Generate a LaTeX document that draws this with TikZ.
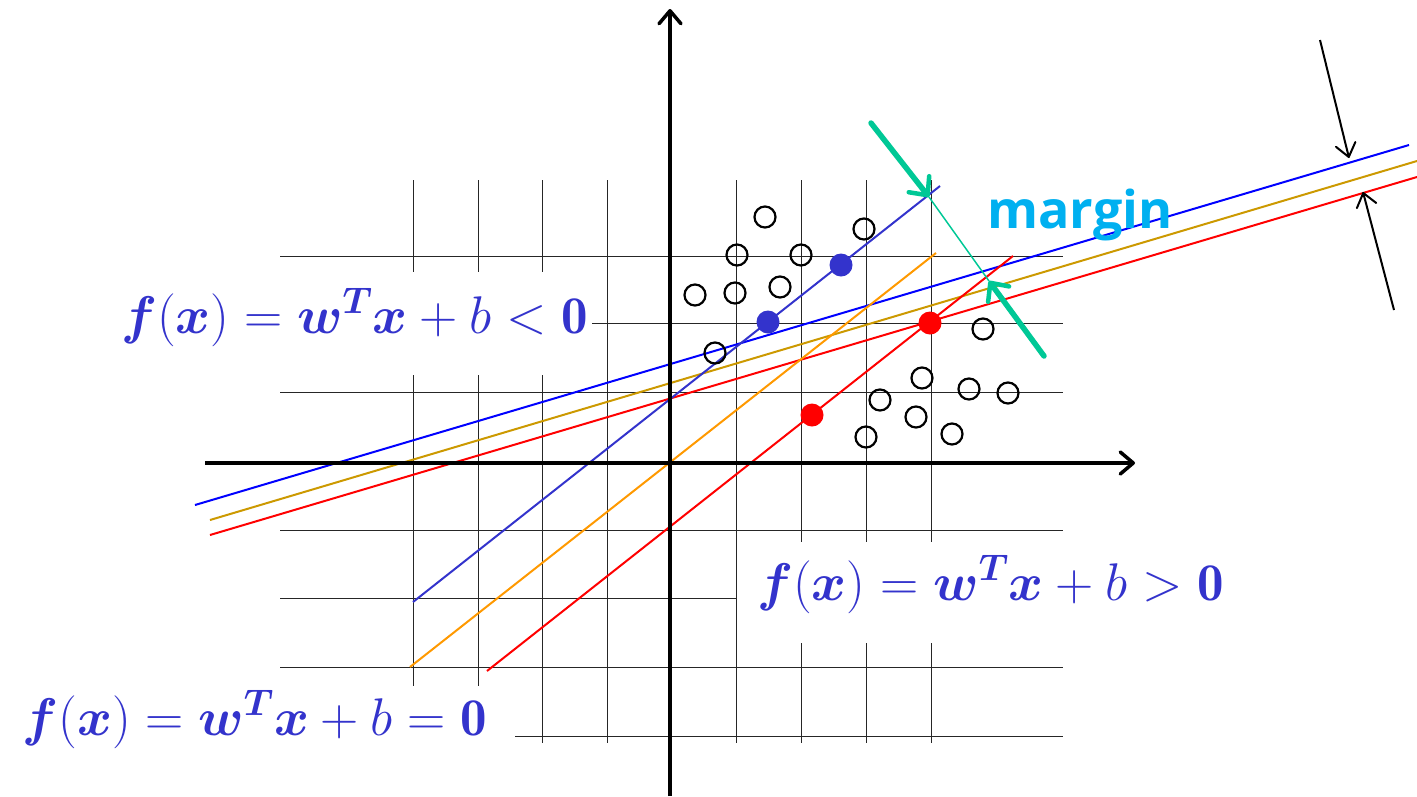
\RequirePackage{fix-cm}
\documentclass[tikz,border=0pt]{standalone}
\usepackage{amsmath}
\usepackage{fontspec}
\usepackage{tikz}
\usetikzlibrary{arrows.meta}
\newfontfamily\marginfont{Open Sans}
\definecolor{eqblue}{RGB}{51,51,204}
\definecolor{lineblue}{RGB}{0,0,255}
\definecolor{linegold}{RGB}{204,153,0}
\definecolor{lineorange}{RGB}{255,153,0}
\definecolor{linered}{RGB}{255,0,0}
\definecolor{margingreen}{RGB}{0,200,150}
\definecolor{margincyan}{RGB}{0,176,240}
\newcommand{\eqsize}{\fontsize{53}{60}\selectfont}
\newcommand{\bsym}[1]{\boldsymbol{#1}}
\begin{document}
\begin{tikzpicture}[x=1pt,y=-1pt,
  gridline/.style={black!85,line width=1pt},
  axis/.style={line width=3.5pt,-{Straight Barb[round,length=13pt,width=22pt]}},
  eq/.style={fill=white,text=eqblue,font=\eqsize,inner ysep=0pt},
  ocirc/.style={circle,draw,line width=2.2pt,minimum size=21pt,inner sep=0pt},
  bdot/.style={circle,fill=eqblue,minimum size=23pt,inner sep=0pt},
  rdot/.style={circle,fill=linered,minimum size=23pt,inner sep=0pt},
  sep/.style={line width=2pt},
  gthick/.style={margingreen,line width=5.5pt,line cap=round,-{Straight Barb[round,length=14pt,width=26pt,line width=4.5pt]}},
  barrow/.style={line width=2pt,-{Straight Barb[round,length=13pt,width=20pt]}}
]
  \useasboundingbox (0,0) rectangle (1417,796);
  % grid
  \draw[gridline] (413,180) -- (413,743);
  \draw[gridline] (478,180) -- (478,743);
  \draw[gridline] (542,180) -- (542,743);
  \draw[gridline] (607,180) -- (607,743);
  \draw[gridline] (736,180) -- (736,743);
  \draw[gridline] (801,180) -- (801,743);
  \draw[gridline] (866,180) -- (866,743);
  \draw[gridline] (931,180) -- (931,743);
  \draw[gridline] (280,256) -- (1063,256);
  \draw[gridline] (280,323) -- (1063,323);
  \draw[gridline] (280,392) -- (1063,392);
  \draw[gridline] (280,530) -- (1063,530);
  \draw[gridline] (280,598) -- (1063,598);
  \draw[gridline] (280,667) -- (1063,667);
  \draw[gridline] (280,736) -- (1063,736);
  % labels
  \node[eq,anchor=base east,inner xsep=4pt,text height=61pt,text depth=42pt] (fneg) at (592,333)
    {$\bsym{f}(\bsym{x}) = \bsym{w}^{\bsym{T}}\bsym{x} + b < \mathbf{0}$};
  \node[eq,anchor=base west,inner xsep=20pt,text height=58pt,text depth=43pt] (fpos) at (737,600)
    {$\bsym{f}(\bsym{x}) = \bsym{w}^{\bsym{T}}\bsym{x} + b > \mathbf{0}$};
  \node[eq,anchor=base east,inner xsep=28pt,text height=49pt,text depth=61pt] (fzero) at (515,735)
    {$\bsym{f}(\bsym{x}) = \bsym{w}^{\bsym{T}}\bsym{x} + b = \mathbf{0}$};
  % hyperplanes
  \coordinate (b1) at (195,505);  \coordinate (b2) at (1409,145);
  \coordinate (g1) at (210,520);  \coordinate (g2) at (1417,161);
  \coordinate (r1) at (210,535);  \coordinate (r2) at (1417,177);
  \coordinate (p1) at (413,602);  \coordinate (p2) at (940,186);
  \coordinate (o1) at (410,667);  \coordinate (o2) at (936,253);
  \coordinate (d1) at (487,671);  \coordinate (d2) at (1013,256);
  \draw[sep,lineblue] (b1) -- (b2);
  \draw[sep,linegold] (g1) -- (g2);
  \draw[sep,linered] (r1) -- (r2);
  \draw[sep,eqblue] (p1) -- (p2);
  \draw[sep,lineorange] (o1) -- (o2);
  \draw[sep,linered] (d1) -- (d2);
  % axes
  \draw[axis] (205,463) -- (1135,463);
  \draw[axis] (670,796) -- (670,9);
  % samples
  \node[ocirc] (c1) at (765,217) {};
  \node[ocirc] (c2) at (864,229) {};
  \node[ocirc] (c3) at (737,255) {};
  \node[ocirc] (c4) at (801,255) {};
  \node[ocirc] (c5) at (695,295) {};
  \node[ocirc] (c6) at (735,293) {};
  \node[ocirc] (c7) at (780,287) {};
  \node[ocirc] (c8) at (715,353) {};
  \node[ocirc] (c9) at (983,329) {};
  \node[ocirc] (c10) at (922,378) {};
  \node[ocirc] (c11) at (969,389) {};
  \node[ocirc] (c12) at (1008,393) {};
  \node[ocirc] (c13) at (880,400) {};
  \node[ocirc] (c14) at (916,417) {};
  \node[ocirc] (c15) at (866,437) {};
  \node[ocirc] (c16) at (952,434) {};
  % support vectors
  \node[bdot] (s1) at (768,322) {};
  \node[bdot] (s2) at (841,265) {};
  \node[rdot] (s3) at (930,323) {};
  \node[rdot] (s4) at (812,415) {};
  % margin
  \coordinate (m1) at (929,197);
  \coordinate (m2) at (989,281);
  \coordinate (ma) at (871,123);
  \coordinate (mb) at (1044,356);
  \draw[margingreen,line width=1.5pt] (m1) -- (m2);
  \draw[gthick] (ma) -- (m1);
  \draw[gthick] (mb) -- (m2);
  \node[text=margincyan,font=\marginfont\bfseries\fontsize{52}{60}\selectfont,anchor=base] (mtext) at (1080,228) {margin};
  \coordinate (k1) at (1320,40);  \coordinate (k2) at (1349,158);
  \coordinate (k3) at (1394,310); \coordinate (k4) at (1363,192);
  \draw[barrow] (k1) -- (k2);
  \draw[barrow] (k3) -- (k4);
\end{tikzpicture}
\end{document}
